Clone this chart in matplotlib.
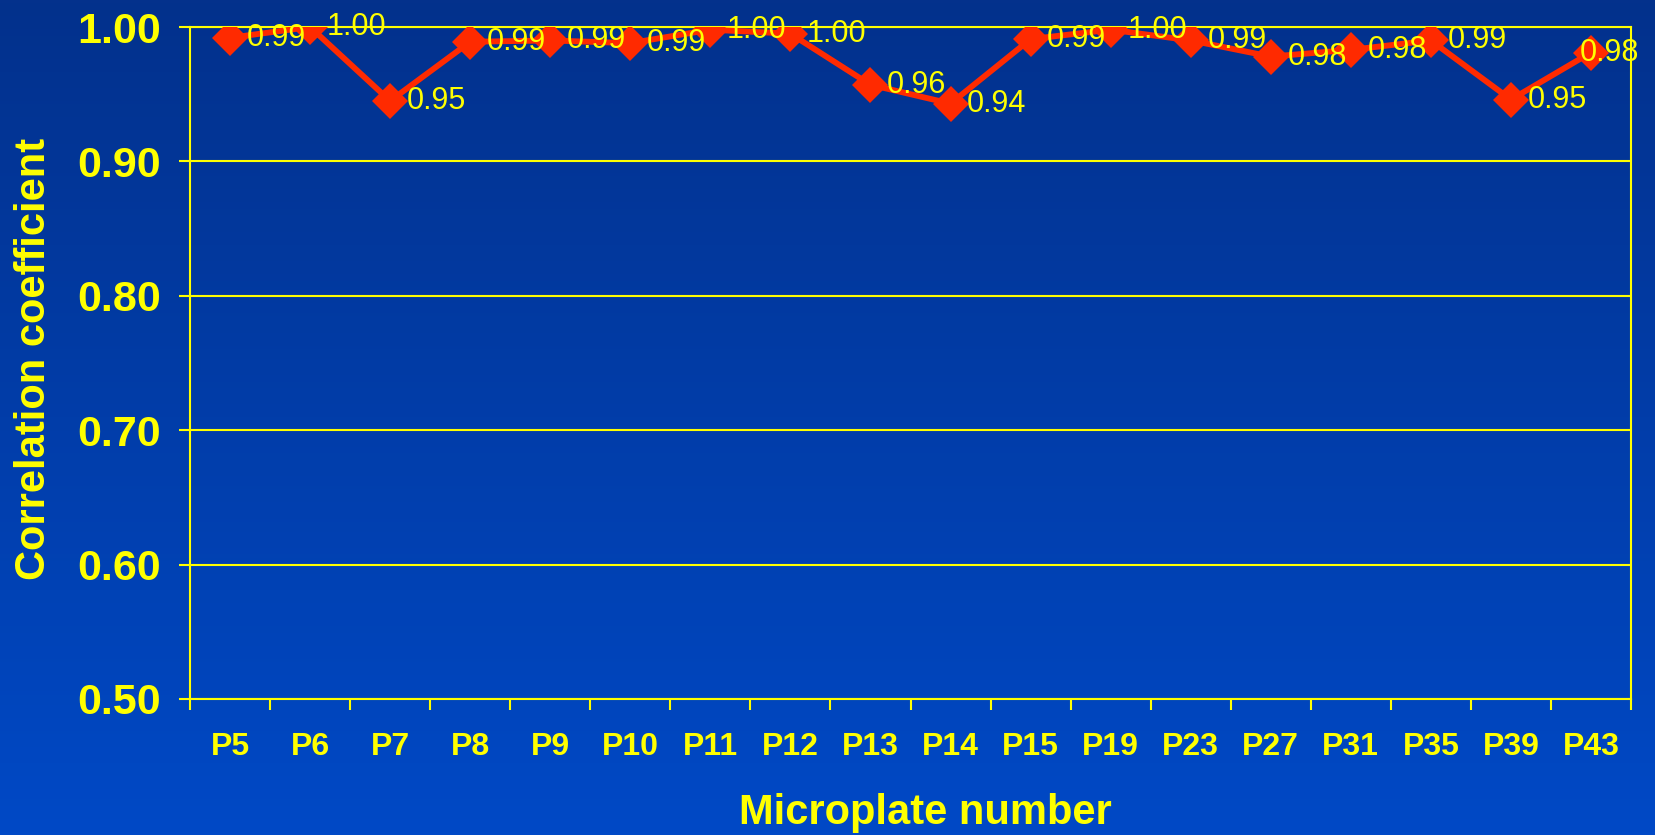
import numpy as np
import matplotlib
matplotlib.use("Agg")
import matplotlib.pyplot as plt
from matplotlib.colors import LinearSegmentedColormap
from matplotlib.ticker import FixedLocator, NullFormatter

categories = ["P5", "P6", "P7", "P8", "P9", "P10", "P11", "P12", "P13", "P14",
              "P15", "P19", "P23", "P27", "P31", "P35", "P39", "P43"]
values = [0.992, 1.000, 0.945, 0.989, 0.990, 0.988, 0.998, 0.995, 0.957, 0.943,
          0.991, 0.998, 0.990, 0.978, 0.983, 0.990, 0.946, 0.981]
labels = ["0.99", "1.00", "0.95", "0.99", "0.99", "0.99", "1.00", "1.00", "0.96", "0.94",
          "0.99", "1.00", "0.99", "0.98", "0.98", "0.99", "0.95", "0.98"]
yticks = [0.50, 0.60, 0.70, 0.80, 0.90, 1.00]

plt.rcParams['font.family'] = ['Liberation Sans', 'DejaVu Sans']
YEL = "#FFFF00"
RED = "#FF2A00"

W, H = 1655, 835
fig = plt.figure(figsize=(W / 100, H / 100), dpi=100)

# gradient background
bg = fig.add_axes([0, 0, 1, 1], zorder=-10)
cmap = LinearSegmentedColormap.from_list("bg", ["#03318C", "#0049C6"])
grad = np.linspace(0, 1, 256).reshape(-1, 1)
bg.imshow(grad, aspect="auto", cmap=cmap, extent=[0, 1, 1, 0])
bg.axis("off")

left, right, top, bottom = 190, 1631, 27, 699
ax = fig.add_axes([left / W, 1 - bottom / H, (right - left) / W, (bottom - top) / H])
ax.set_facecolor("none")

x = np.arange(len(categories))
ax.plot(x, values, color=RED, lw=4.2, marker="D", markersize=18, markeredgewidth=0, zorder=5)
n = len(categories)
for xi, v, t in zip(x, values, labels):
    dx = 12 if xi < n - 1 else -8
    ax.annotate(t, (xi, v), xytext=(dx, 0), textcoords="offset points",
                color=YEL, fontsize=22, ha="left", va="center", zorder=6,
                annotation_clip=False)

ax.set_xlim(-0.5, n - 0.5)
ax.set_ylim(0.5, 1.0)
ax.set_yticks(yticks)
ax.set_yticklabels([f"{t:.2f}" for t in yticks])
ax.yaxis.grid(True, color=YEL, lw=1.5)
ax.set_axisbelow(True)

ax.set_xticks(x)
ax.set_xticklabels(categories)
ax.xaxis.set_minor_locator(FixedLocator(np.arange(-0.5, n, 1.0)))
ax.xaxis.set_minor_formatter(NullFormatter())
ax.tick_params(axis="x", which="major", length=0, pad=24, labelsize=23, labelcolor=YEL)
ax.tick_params(axis="x", which="minor", length=8, width=1.5, color=YEL, direction="out")
ax.tick_params(axis="y", length=8, width=1.5, color=YEL, direction="out", pad=13,
               labelsize=31, labelcolor=YEL)
for lab in ax.get_xticklabels() + ax.get_yticklabels():
    lab.set_fontweight("bold")
for s in ax.spines.values():
    s.set_color(YEL)
    s.set_linewidth(1.5)

fig.text(925 / W, 1 - 813 / H, "Microplate number", color=YEL, fontsize=30,
         fontweight="bold", ha="center", va="center")
fig.text(34 / W, 1 - 359 / H, "Correlation coefficient", color=YEL, fontsize=30,
         fontweight="bold", ha="center", va="center", rotation=90)

fig.savefig("out.png", dpi=100)
